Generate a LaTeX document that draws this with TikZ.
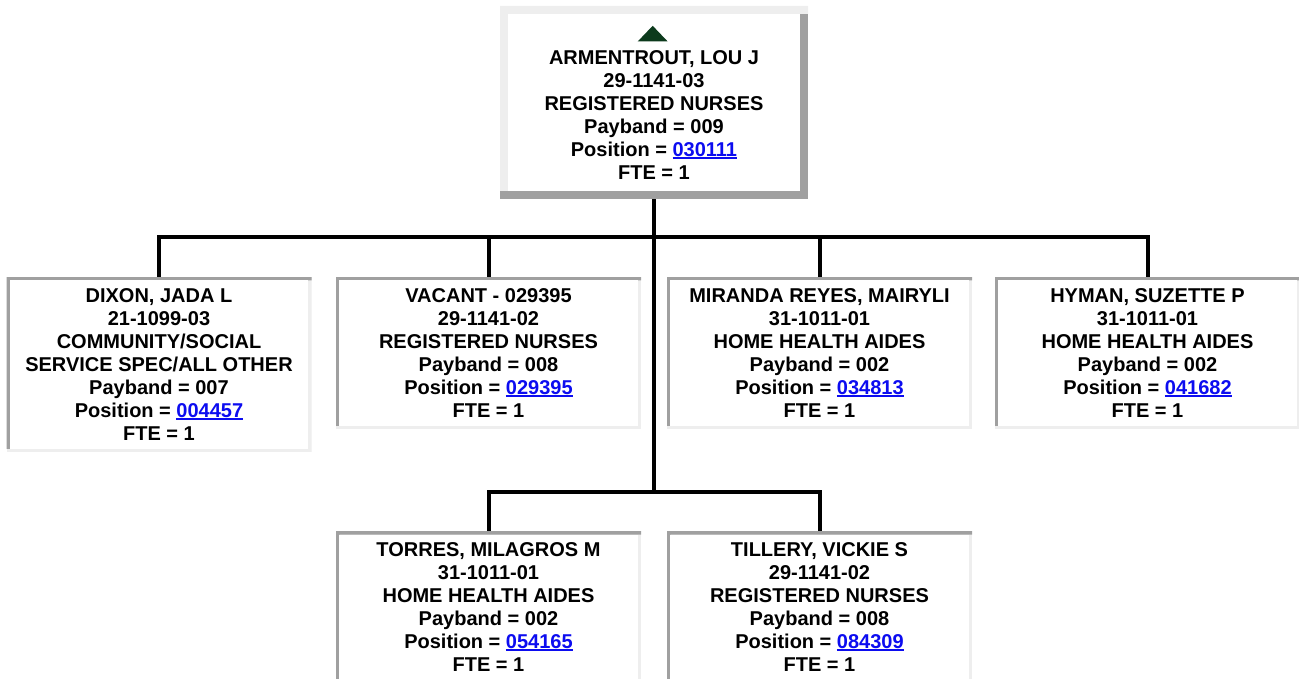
\documentclass[tikz,border=0pt]{standalone}
\usepackage{fontspec}
\setmainfont{Liberation Sans}
\usepackage{xcolor}
\usepackage{tikz}

\definecolor{linkblue}{RGB}{12,12,240}
\definecolor{bevellight}{RGB}{238,238,238}
\definecolor{beveldark}{RGB}{160,160,160}
\definecolor{arrowgreen}{RGB}{12,58,28}

\newcommand{\poslink}[1]{{\color{linkblue}\setbox0=\hbox{#1}\rlap{\rule[-2.6pt]{\wd0}{1.8pt}}\box0}}

\begin{document}
\begin{tikzpicture}[
      x=1pt, y=-1pt,
      every node/.style={font=\fontsize{20}{22.9}\selectfont\bfseries, align=center, inner sep=0pt},
      bevel/.style n args={3}{path picture={
        \fill[#2] (path picture bounding box.south west) rectangle (path picture bounding box.north east);
        \fill[#1] ([yshift=#3]path picture bounding box.south west) -- (path picture bounding box.north west)
          -- (path picture bounding box.north east) -- ([yshift=-#3]path picture bounding box.north east)
          -| ([shift={(#3,#3)}]path picture bounding box.south west) -- cycle;
        \fill[white] ([shift={(#3,#3)}]path picture bounding box.south west)
          rectangle ([shift={(-#3,-#3)}]path picture bounding box.north east);
      }},
      boss/.style={rectangle, fill=white, minimum width=308, minimum height=193, bevel={bevellight}{beveldark}{8pt}},
      staff/.style={rectangle, anchor=north, fill=white, minimum width=305, minimum height=152, bevel={beveldark}{bevellight}{3.3pt}},
      link/.style={line width=4pt}
    ]
      \clip (0,0) rectangle (1299,679);

      \node[boss] (armentrout) at (654,102.5) {\strut\\ARMENTROUT, LOU J\\29-1141-03\\REGISTERED NURSES\\Payband = 009\\Position = \poslink{030111}\\FTE = 1};
      \fill[arrowgreen] ([shift={(-16.3pt,-35.7pt)}]armentrout.north) -- ++(30pt,0pt) -- ++(-15pt,15.7pt) -- cycle;

      % first row
      \node[staff, minimum height=175] (dixon) at (159,277) {DIXON, JADA L\\21-1099-03\\COMMUNITY/SOCIAL\\SERVICE SPEC/ALL OTHER\\Payband = 007\\Position = \poslink{004457}\\FTE = 1};
      \node[staff] (vacant) at (488.5,277) {VACANT - 029395\\29-1141-02\\REGISTERED NURSES\\Payband = 008\\Position = \poslink{029395}\\FTE = 1};
      \node[staff] (miranda) at (819.5,277) {MIRANDA REYES, MAIRYLI\\31-1011-01\\HOME HEALTH AIDES\\Payband = 002\\Position = \poslink{034813}\\FTE = 1};
      \node[staff] (hyman) at (1147.5,277) {HYMAN, SUZETTE P\\31-1011-01\\HOME HEALTH AIDES\\Payband = 002\\Position = \poslink{041682}\\FTE = 1};

      % second row
      \node[staff] (torres) at (488.5,531) {TORRES, MILAGROS M\\31-1011-01\\HOME HEALTH AIDES\\Payband = 002\\Position = \poslink{054165}\\FTE = 1};
      \node[staff] (tillery) at (819.5,531) {TILLERY, VICKIE S\\29-1141-02\\REGISTERED NURSES\\Payband = 008\\Position = \poslink{084309}\\FTE = 1};

      \coordinate (upperfork) at (654,237);
      \coordinate (lowerfork) at (654,492);
      \draw[link] (armentrout.south) -- (lowerfork);
      \foreach \who in {dixon,vacant,miranda,hyman}
        \draw[link] (upperfork) -| (\who.north);
      \foreach \who in {torres,tillery}
        \draw[link] (lowerfork) -| (\who.north);
    \end{tikzpicture}
\end{document}
